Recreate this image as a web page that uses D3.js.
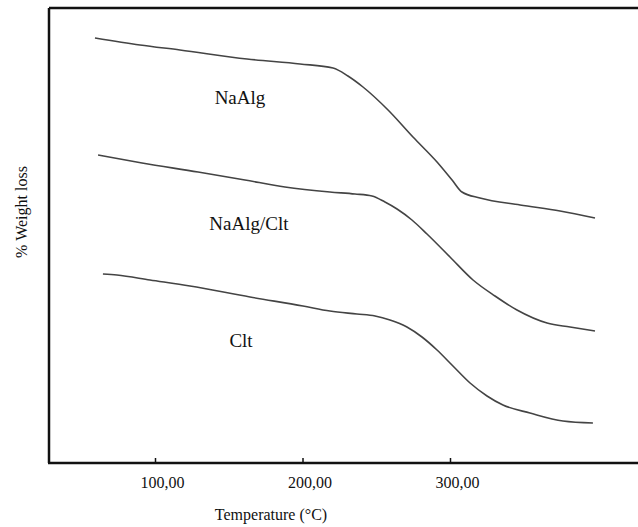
<!DOCTYPE html>
<html>
<head>
<meta charset="utf-8">
<script src="https://cdn.jsdelivr.net/npm/d3@7/dist/d3.min.js"></script>
<style>
  html, body { margin: 0; padding: 0; background: #fff; }
  svg { display: block; }
  text { font-family: "Liberation Serif", "Times New Roman", serif; fill: #111; }
</style>
</head>
<body>
<svg id="chart" width="638" height="527"></svg>
<script>
// ---- data (y in arbitrary weight units) ----
const tickValues = [100, 200, 300];
const tickLabels = ["100,00", "200,00", "300,00"];
const xTitle = "Temperature (\u00B0C)";
const yTitle = "% Weight loss";

const naAlgT = [59.3, 89.8, 116.9, 162.4, 198.3, 220.7, 230.8, 241.0, 258.0, 274.9, 291.2, 301.4, 308.1, 320.3, 347.5, 374.6, 398.3];
const naAlgW = [425, 418, 413, 404, 399, 395, 387, 376, 353, 326, 301, 283, 271, 265, 258, 252, 245];

const naAlgCltT = [61.4, 91.2, 129.2, 161.0, 188.1, 218.6, 235.6, 247.1, 255.9, 264.1, 274.2, 284.4, 300.0, 315.6, 330.5, 345.4, 365.8, 381.4, 398.3];
const naAlgCltW = [308, 300, 291, 283, 276, 271, 269, 267, 261, 254, 243, 229, 206, 183, 167, 153, 140, 136, 132];

const cltT = [64.7, 74.2, 96.6, 123.7, 164.4, 200.3, 218.6, 236.9, 249.2, 259.3, 270.8, 281.0, 291.2, 302.0, 313.6, 325.1, 335.9, 354.2, 376.6, 396.9];
const cltW = [189, 188, 183, 177, 166, 157, 152, 149, 147, 143, 136, 126, 113, 97, 80, 67, 58, 50, 42, 40];

const seriesNames = ["NaAlg", "NaAlg/Clt", "Clt"];
const labelT = [157.6, 163.7, 158.3];
const labelW = [359, 233, 116];

// ---- layout ----
const svg = d3.select("#chart");
const mLeft = 49, mTop = 8, mBottom = 463, mRight = 700;

const x = d3.scaleLinear().domain([100, 300]).range([155, 450]);
const y = d3.scaleLinear().domain([0, 455]).range([mBottom, mTop]);

const series = [
  naAlgT.map((t, i) => [t, naAlgW[i]]),
  naAlgCltT.map((t, i) => [t, naAlgCltW[i]]),
  cltT.map((t, i) => [t, cltW[i]])
];

const line = d3.line()
  .x(d => x(d[0]))
  .y(d => y(d[1]))
  .curve(d3.curveMonotoneX);

svg.selectAll("path.curve")
  .data(series)
  .join("path")
  .attr("class", "curve")
  .attr("d", line)
  .attr("fill", "none")
  .attr("stroke", "#444")
  .attr("stroke-width", 1.6)
  .attr("stroke-linejoin", "round");

// frame: left and top
svg.append("line").attr("x1", mLeft).attr("x2", mLeft).attr("y1", mTop).attr("y2", mBottom)
  .attr("stroke", "#111").attr("stroke-width", 2.5);
svg.append("line").attr("x1", mLeft).attr("x2", mRight).attr("y1", mTop).attr("y2", mTop)
  .attr("stroke", "#111").attr("stroke-width", 2.5);

// bottom axis
const xAxis = d3.axisBottom(x)
  .tickValues(tickValues)
  .tickFormat((d, i) => tickLabels[i])
  .tickSizeInner(-5)
  .tickSizeOuter(0);

const gx = svg.append("g").attr("transform", `translate(0,${mBottom})`).call(xAxis);
gx.select(".domain").remove();
gx.selectAll(".tick line").attr("stroke", "#111").attr("stroke-width", 1.5);
gx.selectAll(".tick text")
  .attr("y", 25).attr("dy", 0).attr("dx", 7)
  .style("font-family", "'Liberation Serif', serif")
  .style("font-size", "16px")
  .attr("fill", "#111");
svg.append("line").attr("x1", mLeft - 1).attr("x2", mRight).attr("y1", mBottom).attr("y2", mBottom)
  .attr("stroke", "#111").attr("stroke-width", 2.5);

// axis titles
svg.append("text")
  .attr("x", 271).attr("y", 520)
  .attr("text-anchor", "middle")
  .style("font-size", "16px")
  .text(xTitle);

svg.append("text")
  .attr("transform", "translate(27,212) rotate(-90)")
  .attr("text-anchor", "middle")
  .style("font-size", "16px")
  .text(yTitle);

// curve labels
svg.selectAll("text.lbl")
  .data(seriesNames)
  .join("text")
  .attr("class", "lbl")
  .attr("x", (d, i) => x(labelT[i]))
  .attr("y", (d, i) => y(labelW[i]))
  .attr("text-anchor", "middle")
  .style("font-size", "19px")
  .text(d => d);
</script>
</body>
</html>
